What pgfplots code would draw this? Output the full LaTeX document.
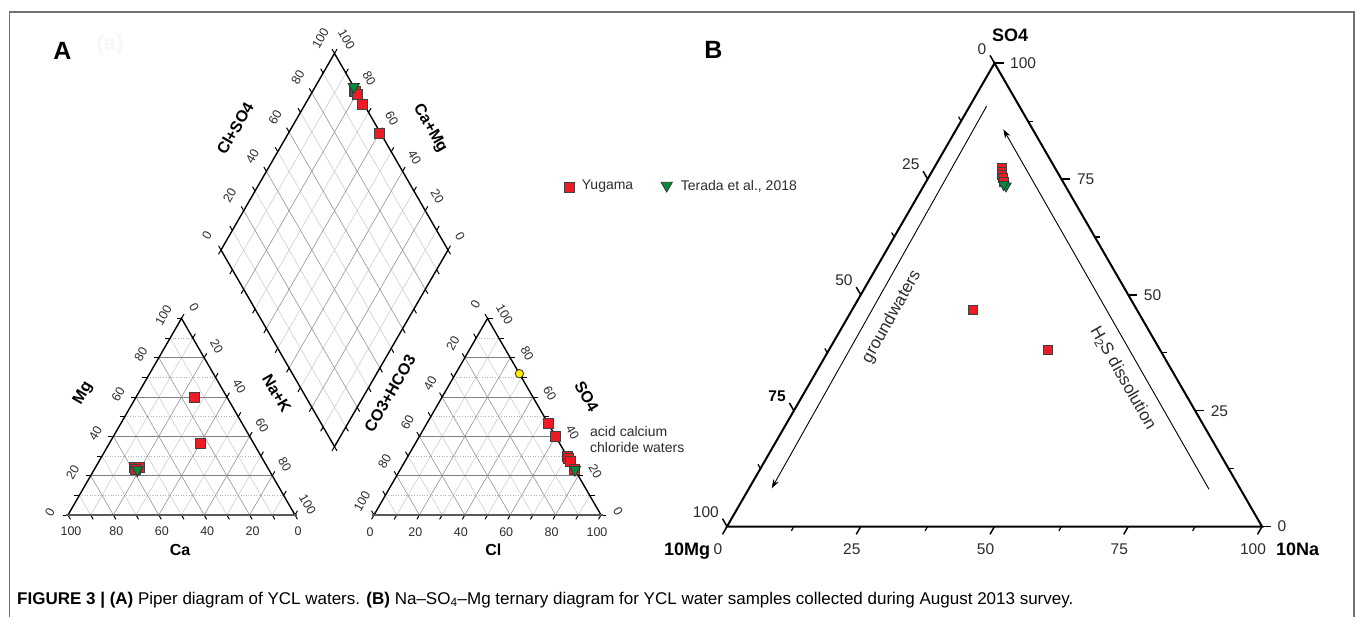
\documentclass[border=0pt]{standalone}
\usepackage{fontspec}
\setmainfont{Liberation Sans}
\usepackage{pgfplots}
\usepackage{pgfplotstable}
\pgfplotsset{compat=1.18}
\usetikzlibrary{arrows.meta}

\definecolor{mred}{RGB}{237,28,36}
\definecolor{mgreen}{RGB}{0,140,60}
\definecolor{myellow}{RGB}{255,236,0}
\definecolor{tk}{RGB}{45,45,45}
\newcommand\fs[1]{\fontsize{#1}{#1}\selectfont}

% Piper: cation triangle (percent)
\pgfplotstableread{
Ca Mg Na
14.4 59.9 25.7
23.5 36.5 40.0
58.7 24.4 16.9
56.4 24.4 19.2
58.8 23.2 18.0
}\cationred
\pgfplotstableread{
Ca Mg Na
58.0 22.9 19.1
}\cationgreen
% Piper: anion triangle (percent)
\pgfplotstableread{
HCO SO Cl
0 46.6 53.4
0 40.0 60.0
0 29.7 70.3
0 29.0 71.0
0 27.3 72.7
0 23.4 76.6
}\anionred
\pgfplotstableread{
HCO SO Cl
0 23.0 77.0
}\aniongreen
\pgfplotstableread{
HCO SO Cl
0 71.9 28.1
}\anionyellow
% Piper: diamond (Ca+Mg, Cl+SO4)
\pgfplotstableread{
CaMg ClSO
81.5 99.0
81.0 99.5
79.7 99.5
74.8 99.5
59.9 99.5
}\diamred
\pgfplotstableread{
CaMg ClSO
83.0 100
}\diamgreen
% Na-SO4-Mg ternary (percent)
\pgfplotstableread{
Mg SO Na
10.0 77.3 12.7
10.4 76.6 13.0
10.6 75.9 13.5
10.8 75.2 14.0
11.0 74.4 14.6
30.6 46.7 22.7
21.0 38.2 40.8
}\ternred
\pgfplotstableread{
Mg SO Na
11.1 73.5 15.4
11.4 73.8 14.8
}\terngreen

\pgfplotsset{
 redsq/.style={only marks, mark=square*, mark size=5, mark options={fill=mred, draw=black!75, line width=0.8pt}},
 grtri/.style={only marks, mark=triangle*, mark size=6.5, mark options={fill=mgreen, draw=black!80, line width=0.8pt, rotate=180}},
 yecirc/.style={only marks, mark=*, mark size=4.2, mark options={fill=myellow, draw=black!80, line width=0.8pt}},
 table/cat/.style={/pgfplots/table/x expr={68+2.27*\thisrow{Na}+1.135*\thisrow{Mg}}, /pgfplots/table/y expr={515-1.9659*\thisrow{Mg}}},
 table/ani/.style={/pgfplots/table/x expr={374+2.27*\thisrow{Cl}+1.135*\thisrow{SO}}, /pgfplots/table/y expr={515-1.9659*\thisrow{SO}}},
 table/dia/.style={/pgfplots/table/x expr={334.5+1.135*(\thisrow{ClSO}-\thisrow{CaMg})}, /pgfplots/table/y expr={446.6-1.9659*(\thisrow{CaMg}+\thisrow{ClSO})}},
 table/ter/.style={/pgfplots/table/x expr={727+5.35*\thisrow{Na}+2.675*\thisrow{SO}}, /pgfplots/table/y expr={526.5-4.633*\thisrow{SO}}},
}
\tikzset{
 gmin/.style={draw=black!22, line width=0.5pt},
 gminh/.style={draw=black!30, line width=0.6pt, dotted},
 gmaj/.style={draw=black!42, line width=0.6pt},
 gmajh/.style={draw=black!50, line width=1pt},
 edge/.style={draw=black, line width=1.4pt},
 bedge/.style={draw=black!65, line width=2pt},
 tick/.style={draw=black, line width=1pt},
 tl/.style={font=\fs{12.5}, text=tk, inner sep=0pt},
 al/.style={font=\fs{16}\bfseries, inner sep=0pt},
}

\newcommand\trigrid[1]{%
 \pgfplotsinvokeforeach{10,30,50,70,90}{%
  \draw[gminh] (axis cs:{#1+1.135*##1},{515-1.9659*##1}) -- (axis cs:{#1+227-1.135*##1},{515-1.9659*##1});
  \draw[gmin] (axis cs:{#1+2.27*##1},515) -- (axis cs:{#1+113.5+1.135*##1},{318.41+1.9659*##1});
  \draw[gmin] (axis cs:{#1+2.27*##1},515) -- (axis cs:{#1+1.135*##1},{515-1.9659*##1});
 }%
 \pgfplotsinvokeforeach{20,40,60,80}{%
  \draw[gmajh] (axis cs:{#1+1.135*##1},{515-1.9659*##1}) -- (axis cs:{#1+227-1.135*##1},{515-1.9659*##1});
  \draw[gmaj] (axis cs:{#1+2.27*##1},515) -- (axis cs:{#1+113.5+1.135*##1},{318.41+1.9659*##1});
  \draw[gmaj] (axis cs:{#1+2.27*##1},515) -- (axis cs:{#1+1.135*##1},{515-1.9659*##1});
 }%
}

\begin{document}
\begin{tikzpicture}
\begin{axis}[x=1pt, y=1pt, xmin=0, xmax=1357, ymin=0, ymax=617, y dir=reverse,
  hide axis, clip=false, scale only axis]
% background and frame
\fill[white] (axis cs:0,0) rectangle (axis cs:1357,617);
\draw[black!55, line width=1.3pt] (axis cs:9.5,617) -- (axis cs:9.5,12) -- (axis cs:1354,12) -- (axis cs:1354,617);

% ---------- Piper grids ----------
\trigrid{68}
\trigrid{374}
\pgfplotsinvokeforeach{10,30,50,70,90}{%
 \draw[gmin] (axis cs:{334.5-1.135*#1},{446.6-1.9659*#1}) -- (axis cs:{448-1.135*#1},{250-1.9659*#1});
 \draw[gmin] (axis cs:{334.5+1.135*#1},{446.6-1.9659*#1}) -- (axis cs:{221+1.135*#1},{250-1.9659*#1});
}
\pgfplotsinvokeforeach{20,40,60,80}{%
 \draw[gmaj] (axis cs:{334.5-1.135*#1},{446.6-1.9659*#1}) -- (axis cs:{448-1.135*#1},{250-1.9659*#1});
 \draw[gmaj] (axis cs:{334.5+1.135*#1},{446.6-1.9659*#1}) -- (axis cs:{221+1.135*#1},{250-1.9659*#1});
}
% ---------- Piper ticks ----------
\pgfplotsinvokeforeach{0,10,...,100}{%
 \draw[tick] (axis cs:{68+2.27*#1},515) -- ++(2.5pt,-4.33pt);
 \draw[tick] (axis cs:{68+1.135*#1},{515-1.9659*#1}) -- ++(-5pt,0pt);
 \draw[tick] (axis cs:{181.5+1.135*#1},{318.41+1.9659*#1}) -- ++(2.5pt,4.33pt);
 \draw[tick] (axis cs:{374+2.27*#1},515) -- ++(-2.5pt,-4.33pt);
 \draw[tick] (axis cs:{487.5-1.135*#1},{318.41+1.9659*#1}) -- ++(-2.5pt,4.33pt);
 \draw[tick] (axis cs:{601-1.135*#1},{515-1.9659*#1}) -- ++(5pt,0pt);
 \draw[tick] (axis cs:{221+1.135*#1},{250-1.9659*#1}) -- ++(-2.5pt,4.33pt);
 \draw[tick] (axis cs:{448-1.135*#1},{250-1.9659*#1}) -- ++(2.5pt,4.33pt);
 \draw[tick] (axis cs:{334.5-1.135*#1},{446.6-1.9659*#1}) -- ++(-2.5pt,-4.33pt);
 \draw[tick] (axis cs:{334.5+1.135*#1},{446.6-1.9659*#1}) -- ++(2.5pt,-4.33pt);
}
% ---------- Piper edges ----------
\draw[edge] (axis cs:68,515) -- (axis cs:181.5,318.41) -- (axis cs:295,515);
\draw[bedge] (axis cs:66,515) -- (axis cs:297,515);
\draw[edge] (axis cs:374,515) -- (axis cs:487.5,318.41) -- (axis cs:601,515);
\draw[bedge] (axis cs:372,515) -- (axis cs:603,515);
\draw[edge] (axis cs:334.5,446.6) -- (axis cs:221,250) -- (axis cs:334.5,53.4) -- (axis cs:448,250) -- cycle;
% ---------- Piper tick labels ----------
\pgfplotsinvokeforeach{0,20,...,100}{%
 \node[tl, rotate=60] at (axis cs:{50+1.135*#1},{512-1.9659*#1}) {#1};
 \node[tl, rotate=-60] at (axis cs:{194+1.135*#1},{307.4+1.9659*#1}) {#1};
 \node[tl] at (axis cs:{298-2.27*#1},531) {#1};
 \node[tl] at (axis cs:{370+2.27*#1},532) {#1};
 \node[tl, rotate=60] at (axis cs:{475.5-1.135*#1},{304.4+1.9659*#1}) {#1};
 \node[tl, rotate=-60] at (axis cs:{618-1.135*#1},{511-1.9659*#1}) {#1};
 \node[tl, rotate=60] at (axis cs:{207+1.135*#1},{235-1.9659*#1}) {#1};
 \node[tl, rotate=-60] at (axis cs:{460-1.135*#1},{236-1.9659*#1}) {#1};
}
% ---------- Piper axis labels ----------
\node[al, rotate=60] at (axis cs:83.3,393.3) {Mg};
\node[al] at (axis cs:180,550) {Ca};
\node[al, rotate=-60] at (axis cs:276.7,393.3) {Na+K};
\node[al] at (axis cs:493.3,550) {Cl};
\node[al, rotate=-60] at (axis cs:586.7,396.7) {SO4};
\node[al, rotate=60] at (axis cs:390,393.3) {CO3+HCO3};
\node[al, rotate=60] at (axis cs:235,128.3) {Cl+SO4};
\node[al, rotate=-60] at (axis cs:430,128.3) {Ca+Mg};
\node[anchor=west, font=\fs{14}, text=tk, inner sep=0pt] at (axis cs:590,431) {acid calcium};
\node[anchor=west, font=\fs{14}, text=tk, inner sep=0pt] at (axis cs:590,447) {chloride waters};
% ---------- Piper data ----------
\addplot[yecirc] table[ani] {\anionyellow};
\addplot[redsq] table[cat] {\cationred};
\addplot[grtri] table[cat] {\cationgreen};
\addplot[redsq] table[ani] {\anionred};
\addplot[grtri] table[ani] {\aniongreen};
\addplot[redsq] table[dia] {\diamred};
\addplot[grtri] table[dia] {\diamgreen};
% ---------- legend ----------
\addplot[redsq, mark size=4.8] coordinates {(569.3,187.3)};
\node[anchor=west, font=\fs{14}, text=tk, inner sep=0pt] at (axis cs:581.7,186) {Yugama};
\addplot[grtri, mark size=6.5] coordinates {(666.7,185.5)};
\node[anchor=west, font=\fs{14}, text=tk, inner sep=0pt] at (axis cs:680.7,186) {Terada et al., 2018};

% ---------- panel letters ----------
\node[font=\fs{25}\bfseries, inner sep=0pt] at (axis cs:62.5,50.5) {A};
\node[font=\fs{22}\bfseries, text=black!3, inner sep=0pt] at (axis cs:110,45) {(a)};
\node[font=\fs{25}\bfseries, inner sep=0pt] at (axis cs:713.3,50) {B};

% ---------- ternary B ----------
\draw[line width=2pt] (axis cs:727,526.5) -- (axis cs:1262,526.5) -- (axis cs:994.5,63.2) -- cycle;
\pgfplotsinvokeforeach{0,25,50,75,100}{%
 \draw[line width=1.5pt] (axis cs:{994.5-2.675*#1},{63.2+4.633*#1}) -- ++(-4.5pt,7.8pt);
 \draw[line width=1.5pt] (axis cs:{1262-2.675*#1},{526.5-4.633*#1}) -- ++(9pt,0pt);
 \draw[line width=1.5pt] (axis cs:{727+5.35*#1},526.5) -- ++(-4.5pt,-7.8pt);
}
\pgfplotsinvokeforeach{12.5,37.5,62.5,87.5}{%
 \draw[line width=1.2pt] (axis cs:{994.5-2.675*#1},{63.2+4.633*#1}) -- ++(-2.5pt,4.33pt);
 \draw[line width=1.2pt] (axis cs:{1262-2.675*#1},{526.5-4.633*#1}) -- ++(5pt,0pt);
 \draw[line width=1.2pt] (axis cs:{727+5.35*#1},526.5) -- ++(-2.5pt,-4.33pt);
}
\pgfplotsinvokeforeach{0,25,50,75,100}{%
 \node[anchor=west, font=\fs{15.5}, text=tk, inner sep=0pt] at (axis cs:{1262-2.675*#1+15.5},{526.5-4.633*#1}) {#1};
 \node[font=\fs{15.5}, text=tk, inner sep=0pt] at (axis cs:{727+5.35*#1-9},549) {#1};
}
\node[anchor=east, font=\fs{15.5}, text=tk, inner sep=0pt] at (axis cs:986.5,48.7) {0};
\node[anchor=east, font=\fs{15.5}, text=tk, inner sep=0pt] at (axis cs:919.6,164.5) {25};
\node[anchor=east, font=\fs{15.5}, text=tk, inner sep=0pt] at (axis cs:852.8,280.4) {50};
\node[anchor=east, font=\fs{15.5}\bfseries, inner sep=0pt] at (axis cs:785.9,396.2) {75};
\node[anchor=east, font=\fs{15.5}, text=tk, inner sep=0pt] at (axis cs:719,512) {100};
\node[font=\fs{18}\bfseries, inner sep=0pt] at (axis cs:1010,35.5) {SO4};
\node[font=\fs{18}\bfseries, inner sep=0pt] at (axis cs:687,551) {10Mg};
\node[font=\fs{18}\bfseries, inner sep=0pt] at (axis cs:1297.7,549.3) {10Na};
% arrows
\draw[line width=0.9pt, -{Stealth[length=9pt, width=6pt]}] (axis cs:986.7,106) -- (axis cs:771.7,488.3);
\draw[line width=0.9pt, -{Stealth[length=9pt, width=6pt]}] (axis cs:1209,489.3) -- (axis cs:1003.3,129.3);
\node[font=\fs{17}, text=tk, rotate=60.6, inner sep=0pt] at (axis cs:891.7,317) {groundwaters};
\node[font=\fs{17}, text=tk, rotate=-60.3, inner sep=0pt] at (axis cs:1123,378) {H\textsubscript{2}S dissolution};
% data B
\addplot[redsq, mark size=4.5] table[ter] {\ternred};
\addplot[grtri, mark size=6] table[ter] {\terngreen};

% ---------- caption ----------
\node[anchor=west, font=\fs{17}, inner sep=0pt] at (axis cs:17,600) {\textbf{FIGURE 3 | (A)} Piper diagram of YCL waters. \textbf{(B)} Na–SO\textsubscript{4}–Mg ternary diagram for YCL water samples collected during August 2013 survey.};
\end{axis}
\end{tikzpicture}
\end{document}
